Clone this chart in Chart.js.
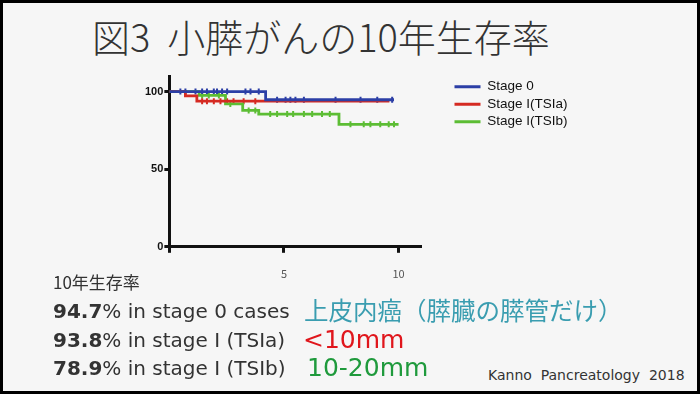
<!DOCTYPE html>
<html>
<head>
<meta charset="utf-8">
<script src="https://cdn.jsdelivr.net/npm/chart.js@4.4.1/dist/chart.umd.min.js"></script>
<style>
body { margin: 0; }
#slide { position: relative; width: 700px; height: 394px; box-sizing: border-box; border: 3px solid #000; background: #f6f6f6; overflow: hidden; font-family: "Noto Sans CJK JP", sans-serif; color: #333; }
.t { position: absolute; white-space: nowrap; line-height: 1; }
.lat { font-family: "DejaVu Sans", sans-serif; }
#wrap { position: absolute; left: 107px; top: 58px; width: 500px; height: 239px; }
</style>
</head>
<body>
<div id="slide">
  <div class="t" style="left:89px;top:14px;font-size:38px;font-weight:300;color:#333">図3&nbsp;&nbsp;小膵がんの10年生存率</div>
  <div id="wrap"><canvas id="chart"></canvas></div>
  <div class="t" style="left:50px;top:270px;font-size:17px">10年生存率</div>
  <div class="t lat" style="left:50px;top:298px;font-size:20px"><b>94.7</b>% in stage 0 cases</div>
  <div class="t lat" style="left:50px;top:327px;font-size:20px"><b>93.8</b>% in stage I (TSIa)</div>
  <div class="t lat" style="left:50px;top:355px;font-size:20px"><b>78.9</b>% in stage I (TSIb)</div>
  <div class="t" style="left:301px;top:295px;font-size:24.5px;color:#3a9db0">上皮内癌（膵臓の膵管だけ）</div>
  <div class="t lat" style="left:300px;top:324px;font-size:25px;color:#e0161c">&lt;10mm</div>
  <div class="t lat" style="left:304px;top:352px;font-size:25px;color:#1f9a3c">10-20mm</div>
  <div class="t lat" style="left:485px;top:365px;font-size:14px">Kanno&nbsp;&nbsp;Pancreatology&nbsp;&nbsp;2018</div>
</div>
<script>
// axis ticks
const xTicks = [0, 5, 10];
const yTicks = [0, 50, 100];

const seriesNames = ['Stage 0', 'Stage I(TSIa)', 'Stage I(TSIb)'];
const seriesColors = ['#2c3fa6', '#d52a22', '#5cbd34'];

// Kaplan-Meier steps (years, % survival)
const stage0Time = [0, 4.2, 9.8];
const stage0Surv = [100, 94.7, 94.7];
const stage0Censor = [0.48, 0.7, 1.14, 1.43, 1.64, 1.94, 2.08, 2.3, 2.52, 3.32, 3.54, 3.9, 4.7, 5.07, 5.28, 5.5, 5.87, 7.25, 8.34, 9.07, 9.72];

const stageIaTime = [0, 0.7, 1.2, 9.6];
const stageIaSurv = [100, 97.2, 93.8, 93.8];
const stageIaCensor = [1.43, 1.64, 1.94, 2.23, 2.52, 2.8, 3.24, 3.75];

const stageIbTime = [0, 1.3, 2.45, 3.2, 3.9, 7.4, 10.0];
const stageIbSurv = [100, 97.5, 92, 87.8, 85.5, 78.9, 78.9];
const stageIbCensor = [1.43, 1.72, 2.16, 2.66, 3.46, 3.75, 4.4, 4.7, 5.14, 5.4, 5.87, 6.23, 6.66, 7.0, 7.9, 8.48, 8.77, 9.2, 9.57, 9.8];

function survAt(times, surv, t) {
    let v = surv[0];
    for (let i = 0; i < times.length; i++) {
        if (times[i] <= t) v = surv[i];
    }
    return v;
}

function lineSet(i, times, surv) {
    return {
        label: seriesNames[i],
        data: times.map((t, k) => ({ x: t, y: surv[k] })),
        borderColor: seriesColors[i],
        backgroundColor: seriesColors[i],
        borderWidth: 2.8,
        stepped: 'before',
        pointRadius: 0,
        pointStyle: 'line',
        fill: false
    };
}

function censorSet(i, times, surv, cens) {
    return {
        label: 'censor',
        data: cens.map(t => ({ x: t, y: survAt(times, surv, t) })),
        borderColor: seriesColors[i],
        backgroundColor: seriesColors[i],
        showLine: false,
        pointStyle: 'line',
        rotation: 90,
        pointRadius: 3,
        borderWidth: 2
    };
}

// legend sits a bit away from the plot, and needs more room than layout gives it
const legendPlace = {
    id: 'legendPlace',
    afterLayout(chart) {
        const lg = chart.legend;
        lg.left = chart.chartArea.right + 29;
        lg.width = 150;
        lg.right = lg.left + 150;
    }
};

const ctx = document.getElementById('chart').getContext('2d');
var myChart = new Chart(ctx, {
    type: 'line',
    data: {
        datasets: [
            lineSet(0, stage0Time, stage0Surv),
            lineSet(1, stageIaTime, stageIaSurv),
            lineSet(2, stageIbTime, stageIbSurv),
            censorSet(0, stage0Time, stage0Surv, stage0Censor),
            censorSet(1, stageIaTime, stageIaSurv, stageIaCensor),
            censorSet(2, stageIbTime, stageIbSurv, stageIbCensor)
        ]
    },
    options: {
        responsive: true,
        maintainAspectRatio: false,
        animation: false,
        layout: { padding: { left: 34, top: 15, right: 96, bottom: 6 } },
        plugins: {
            tooltip: { enabled: false },
            legend: {
                position: 'right',
                align: 'start',
                labels: {
                    filter: item => item.text !== 'censor',
                    usePointStyle: true,
                    pointStyleWidth: 26,
                    padding: 4,
                    color: '#111',
                    font: { family: 'Liberation Sans', size: 13.5 }
                }
            }
        },
        scales: {
            x: {
                type: 'linear',
                min: 0,
                max: 11,
                afterBuildTicks: s => { s.ticks = xTicks.map(v => ({ value: v })); },
                ticks: {
                    callback: v => v === 0 ? '' : v,
                    font: { family: 'Noto Sans CJK JP', size: 11 },
                    color: '#555',
                    padding: 14,
                    maxRotation: 0,
                    autoSkip: false
                },
                grid: { drawOnChartArea: false, drawTicks: true, tickLength: 6, tickWidth: 3, color: '#111' },
                border: { color: '#111', width: 3 }
            },
            y: {
                min: 0,
                max: 110,
                afterBuildTicks: s => { s.ticks = yTicks.map(v => ({ value: v })); },
                ticks: {
                    font: { family: 'Liberation Sans', size: 11, weight: 'bold' },
                    color: '#111',
                    padding: 1
                },
                grid: { drawOnChartArea: false, drawTicks: true, tickLength: 5, tickWidth: 3, color: '#111' },
                border: { color: '#111', width: 3 }
            }
        }
    },
    plugins: [legendPlace]
});
</script>
</body>
</html>
